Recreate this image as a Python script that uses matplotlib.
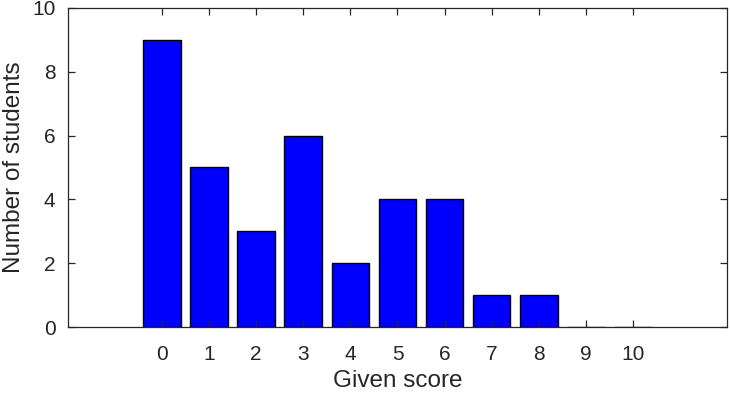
import matplotlib.pyplot as plt
import numpy as np

plt.rcParams['font.family'] = ['Liberation Sans', 'DejaVu Sans']

# datos
puntajes = [0, 1, 2, 3, 4, 5, 6, 7, 8, 9, 10]
alumnos = [9, 5, 3, 6, 2, 4, 4, 1, 1, 0, 0]

fig = plt.figure(figsize=(7.3, 3.94), dpi=100)
ax = fig.add_axes([0.093, 0.170, 0.903, 0.810])

ax.bar(puntajes, alumnos, width=0.8, color=(0, 0, 1), edgecolor='black', linewidth=1.0)

ax.set_xlim(-2, 12)
ax.set_ylim(0, 10)
ax.set_xticks(puntajes)
ax.set_yticks(np.arange(0, 11, 2))

gris = '#262626'
for s in ax.spines.values():
    s.set_color(gris)
    s.set_linewidth(0.9)
ax.tick_params(direction='in', top=True, right=True, length=5, width=0.9,
               color=gris, labelcolor=gris, labelsize=15)
ax.tick_params(axis='x', pad=13)
ax.tick_params(axis='y', pad=9)

ax.set_xlabel("Given score", fontsize=17.5, color=gris)
ax.set_ylabel("Number of students", fontsize=17.5, color=gris)
ax.xaxis.set_label_coords(0.5, -0.135)
ax.yaxis.set_label_coords(-0.065, 0.5)

fig.savefig("out.png", dpi=100)
